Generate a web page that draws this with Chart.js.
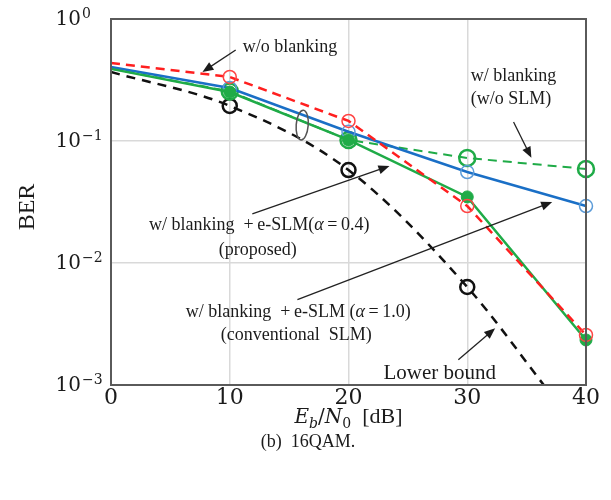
<!DOCTYPE html>
<html>
<head>
<meta charset="utf-8">
<script src="https://cdn.jsdelivr.net/npm/chart.js@4.4.1/dist/chart.umd.min.js"></script>
<style>
  html, body { margin: 0; padding: 0; background: #fff; }
</style>
</head>
<body>
<canvas id="ber" width="611" height="500"></canvas>
<script>
// Eb/N0 [dB]
const snr = [0, 10, 20, 30, 40];
const snrBound = [0, 10, 20, 30, 37];

// BER curves, 16QAM
const berNoBlanking = [0.436, 0.335, 0.146, 0.0293, 0.00257];
const berBlankingOnly = [0.392, 0.255, 0.102, 0.0726, 0.059];
const berConvSlm = [0.404, 0.272, 0.119, 0.0557, 0.0293];
const berProposed = [0.39, 0.252, 0.102, 0.0348, 0.00234];
const berBound = [0.368, 0.194, 0.0578, 0.00636, 0.00085];

const xTicks = [0, 10, 20, 30, 40];
const yTicks = [1, 0.1, 0.01, 0.001];

const serif = '"Liberation Serif", "Times New Roman", serif';
const mathFont = '"DejaVu Serif", serif';
const ink = "#1b1b1b";

const pts = (xs, ys) => xs.map((x, i) => ({ x: x, y: ys[i] }));
// no marker at 0 dB
const marks = (r) => snr.map((_, i) => (i === 0 ? 0 : r));

// text made of several runs: [text, font, dy]
function drawRuns(ctx, parts, x, y, align) {
  let w = 0;
  parts.forEach((p) => { ctx.font = p[1]; w += ctx.measureText(p[0]).width; });
  let cx = align === "center" ? x - w / 2 : x;
  ctx.textAlign = "left";
  parts.forEach((p) => {
    ctx.font = p[1];
    ctx.fillText(p[0], cx, y + (p[2] || 0));
    cx += ctx.measureText(p[0]).width;
  });
}

function drawArrow(ctx, x1, y1, x2, y2) {
  const a = Math.atan2(y2 - y1, x2 - x1);
  const len = 11, half = 4.5;
  ctx.beginPath();
  ctx.moveTo(x1, y1);
  ctx.lineTo(x2 - Math.cos(a) * len * 0.8, y2 - Math.sin(a) * len * 0.8);
  ctx.stroke();
  ctx.beginPath();
  ctx.moveTo(x2, y2);
  ctx.lineTo(x2 - Math.cos(a) * len - Math.sin(a) * half, y2 - Math.sin(a) * len + Math.cos(a) * half);
  ctx.lineTo(x2 - Math.cos(a) * len + Math.sin(a) * half, y2 - Math.sin(a) * len - Math.cos(a) * half);
  ctx.closePath();
  ctx.fill();
}

const decorations = {
  id: "decorations",
  afterDraw(chart) {
    const ctx = chart.ctx;
    const xs = chart.scales.x, ys = chart.scales.y;
    const area = chart.chartArea;
    const P = (x, y) => [xs.getPixelForValue(x), ys.getPixelForValue(y)];

    ctx.save();
    // frame
    ctx.strokeStyle = "#5a5a5a";
    ctx.lineWidth = 2;
    ctx.strokeRect(area.left, area.top, area.right - area.left, area.bottom - area.top);

    ctx.fillStyle = ink;
    ctx.textBaseline = "middle";

    // y tick labels 10^n
    yTicks.forEach((v) => {
      const y = ys.getPixelForValue(v);
      const e = Math.round(Math.log10(v));
      ctx.font = "20px " + mathFont;
      ctx.textAlign = "right";
      ctx.fillText("10", area.left - 30, y + 1);
      ctx.font = "14px " + mathFont;
      ctx.textAlign = "left";
      ctx.fillText(e === 0 ? "0" : "\u2212" + Math.abs(e), area.left - 29, y - 5);
    });

    // x tick labels
    ctx.font = "22px " + mathFont;
    ctx.textAlign = "center";
    xTicks.forEach((v) => ctx.fillText(String(v), xs.getPixelForValue(v), area.bottom + 13));

    // axis titles
    ctx.textBaseline = "alphabetic";
    drawRuns(ctx, [
      ["E", "italic 20px " + mathFont],
      ["b", "italic 14px " + mathFont, 5],
      ["/", "20px " + mathFont],
      ["N", "italic 20px " + mathFont],
      ["0", "14px " + mathFont, 5],
      ["  [dB]", "22px " + serif]
    ], (area.left + area.right) / 2, 423, "center");

    ctx.font = "18px " + serif;
    ctx.textAlign = "center";
    ctx.fillText("(b)  16QAM.", 308, 447);

    ctx.save();
    ctx.translate(28, 207);
    ctx.rotate(-Math.PI / 2);
    ctx.font = "24px " + serif;
    ctx.textAlign = "center";
    ctx.textBaseline = "middle";
    ctx.fillText("BER", 0, 0);
    ctx.restore();

    // annotations
    ctx.textBaseline = "middle";
    ctx.strokeStyle = "#222";
    ctx.fillStyle = ink;
    ctx.lineWidth = 1.3;
    const f = "18px " + serif, fi = "italic 18px " + serif;

    let p = P(11.1, 0.589);
    drawRuns(ctx, [["w/o blanking", f]], p[0], p[1], "left");
    drawArrow(ctx, ...P(10.5, 0.557), ...P(7.7, 0.368));

    p = P(30.3, 0.341);
    drawRuns(ctx, [["w/ blanking", f]], p[0], p[1], "left");
    p = P(30.3, 0.221);
    drawRuns(ctx, [["(w/o SLM)", f]], p[0], p[1], "left");
    drawArrow(ctx, ...P(33.9, 0.143), ...P(35.4, 0.0728));

    p = P(3.2, 0.0205);
    drawRuns(ctx, [["w/ blanking  +\u2009e-SLM(", f], ["\u03b1", fi], ["\u2009=\u20090.4)", f]], p[0], p[1], "left");
    p = P(12.35, 0.0128);
    drawRuns(ctx, [["(proposed)", f]], p[0], p[1], "center");
    drawArrow(ctx, ...P(11.9, 0.0253), ...P(23.45, 0.0623));

    p = P(6.3, 0.00397);
    drawRuns(ctx, [["w/ blanking  +\u2009e-SLM (", f], ["\u03b1", fi], ["\u2009=\u20091.0)", f]], p[0], p[1], "left");
    p = P(9.25, 0.00257);
    drawRuns(ctx, [["(conventional  SLM)", f]], p[0], p[1], "left");
    drawArrow(ctx, ...P(15.7, 0.005), ...P(37.15, 0.0316));

    p = P(22.95, 0.00125);
    drawRuns(ctx, [["Lower bound", "21px " + serif]], p[0], p[1], "left");
    drawArrow(ctx, ...P(29.25, 0.00161), ...P(32.35, 0.00292));

    // grouping ellipse around the two SLM curves
    p = P(16.1, 0.135);
    ctx.strokeStyle = "#555";
    ctx.lineWidth = 1.5;
    ctx.beginPath();
    ctx.ellipse(p[0], p[1], 6, 15, 0.08, 0, Math.PI * 2);
    ctx.stroke();

    ctx.restore();
  }
};

const none = "rgba(0,0,0,0)";

new Chart(document.getElementById("ber"), {
  type: "line",
  data: {
    datasets: [
      {
        label: "w/o blanking",
        data: pts(snr, berNoBlanking),
        clip: false,
        borderColor: "#ff1f1f",
        borderWidth: 2.5,
        borderDash: [9, 6],
        pointRadius: marks(6.5),
        pointBorderColor: "#ff4444",
        pointBackgroundColor: none,
        pointBorderWidth: 1.5,
      },
      {
        label: "w/ blanking + e-SLM (alpha=0.4)",
        data: pts(snr, berProposed),
        clip: false,
        borderColor: "#1fab47",
        borderWidth: 2.5,
        pointRadius: marks(6),
        pointBorderColor: "#1fab47",
        pointBackgroundColor: "#1fab47",
        pointBorderWidth: 1,
      },
      {
        label: "w/ blanking + e-SLM (alpha=1.0)",
        data: pts(snr, berConvSlm),
        clip: false,
        borderColor: "#1a6fc6",
        borderWidth: 2.5,
        pointRadius: marks(6.5),
        pointBorderColor: "#5b9bd8",
        pointBackgroundColor: none,
        pointBorderWidth: 1.5,
      },
      {
        label: "w/ blanking (w/o SLM)",
        data: pts(snr, berBlankingOnly),
        clip: false,
        borderColor: "#1fab47",
        borderWidth: 2,
        borderDash: [9, 6],
        pointRadius: marks(8),
        pointBorderColor: "#1fab47",
        pointBackgroundColor: none,
        pointBorderWidth: 2.5,
      },
      {
        label: "Lower bound",
        data: pts(snrBound, berBound),
        borderColor: "#111",
        borderWidth: 2.5,
        borderDash: [9, 7],
        cubicInterpolationMode: "monotone",
        pointRadius: [0, 7, 7, 7, 0],
        pointBorderColor: "#111",
        pointBackgroundColor: none,
        pointBorderWidth: 2.5,
      },
    ],
  },
  options: {
    responsive: false,
    animation: false,
    layout: { padding: { left: 111, top: 19, right: 25, bottom: 115 } },
    plugins: { legend: { display: false }, tooltip: { enabled: false } },
    scales: {
      x: {
        type: "linear",
        min: 0,
        max: 40,
        afterBuildTicks: (s) => { s.ticks = xTicks.map((v) => ({ value: v })); },
        afterFit: (s) => { s.height = 0; },
        ticks: { display: false },
        grid: { color: "#d9d9d9", lineWidth: 1.5, drawTicks: false },
        border: { display: false },
      },
      y: {
        type: "logarithmic",
        min: 0.001,
        max: 1,
        afterBuildTicks: (s) => { s.ticks = yTicks.map((v) => ({ value: v })); },
        afterFit: (s) => { s.width = 0; },
        ticks: { display: false },
        grid: { color: "#d9d9d9", lineWidth: 1.5, drawTicks: false },
        border: { display: false },
      },
    },
  },
  plugins: [decorations],
});
</script>
</body>
</html>
